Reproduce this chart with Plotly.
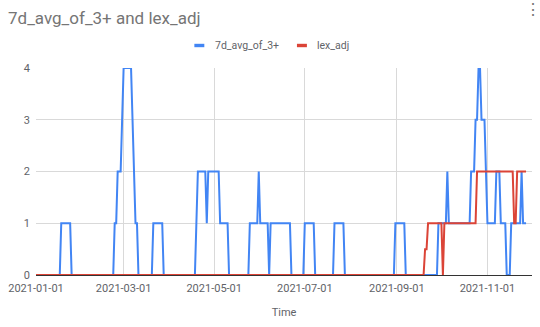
import pandas as pd
import plotly.graph_objects as go

start_date = "2021-01-01"
series_names = ["7d_avg_of_3+", "lex_adj"]
series_colors = ["#4285F4", "#DB4437"]

avg_of_3 = [
    0, 0, 0, 0, 0, 0, 0, 0, 0, 0, 0, 0, 0, 0, 0, 0, 0, 1, 1, 1,
    1, 1, 1, 1, 0, 0, 0, 0, 0, 0, 0, 0, 0, 0, 0, 0, 0, 0, 0, 0,
    0, 0, 0, 0, 0, 0, 0, 0, 0, 0, 0, 0, 0, 1, 1, 2, 2, 2, 3, 4,
    4, 4, 4, 4, 4, 3, 2, 1, 1, 0, 0, 0, 0, 0, 0, 0, 0, 0, 0, 1,
    1, 1, 1, 1, 1, 1, 0, 0, 0, 0, 0, 0, 0, 0, 0, 0, 0, 0, 0, 0,
    0, 0, 0, 0, 0, 0, 0, 0, 1, 2, 2, 2, 2, 2, 2, 1, 2, 2, 2, 2,
    2, 2, 2, 2, 1, 1, 1, 1, 1, 1, 0, 0, 0, 0, 0, 0, 0, 0, 0, 0,
    0, 0, 0, 0, 1, 1, 1, 1, 1, 1, 2, 1, 1, 1, 1, 1, 1, 0, 1, 1,
    1, 1, 1, 1, 1, 1, 1, 1, 1, 1, 1, 1, 0, 0, 0, 0, 0, 0, 0, 0,
    0, 1, 1, 1, 1, 1, 1, 1, 0, 0, 0, 0, 0, 0, 0, 0, 0, 0, 0, 0,
    0, 1, 1, 1, 1, 1, 1, 1, 0, 0, 0, 0, 0, 0, 0, 0, 0, 0, 0, 0,
    0, 0, 0, 0, 0, 0, 0, 0, 0, 0, 0, 0, 0, 0, 0, 0, 0, 0, 0, 0,
    0, 0, 1, 1, 1, 1, 1, 1, 1, 0, 0, 0, 0, 0, 0, 0, 0, 0, 0, 0,
    0, 0, 0, 0, 0, 0, 0, 0, 0, 0, 0, 1, 1, 1, 1, 1, 1, 2, 1, 1,
    1, 1, 1, 1, 1, 1, 1, 1, 1, 1, 1, 1, 1, 2, 2, 2, 3, 3, 4, 4,
    3, 3, 3, 2, 1, 1, 1, 1, 1, 1, 2, 2, 2, 1, 1, 1, 1, 0, 0, 0,
    1, 1, 1, 1, 1, 1, 1, 2, 1, 1, 1,
]

lex_adj = [
    0, 0, 0, 0, 0, 0, 0, 0, 0, 0, 0, 0, 0, 0, 0, 0, 0, 0, 0, 0,
    0, 0, 0, 0, 0, 0, 0, 0, 0, 0, 0, 0, 0, 0, 0, 0, 0, 0, 0, 0,
    0, 0, 0, 0, 0, 0, 0, 0, 0, 0, 0, 0, 0, 0, 0, 0, 0, 0, 0, 0,
    0, 0, 0, 0, 0, 0, 0, 0, 0, 0, 0, 0, 0, 0, 0, 0, 0, 0, 0, 0,
    0, 0, 0, 0, 0, 0, 0, 0, 0, 0, 0, 0, 0, 0, 0, 0, 0, 0, 0, 0,
    0, 0, 0, 0, 0, 0, 0, 0, 0, 0, 0, 0, 0, 0, 0, 0, 0, 0, 0, 0,
    0, 0, 0, 0, 0, 0, 0, 0, 0, 0, 0, 0, 0, 0, 0, 0, 0, 0, 0, 0,
    0, 0, 0, 0, 0, 0, 0, 0, 0, 0, 0, 0, 0, 0, 0, 0, 0, 0, 0, 0,
    0, 0, 0, 0, 0, 0, 0, 0, 0, 0, 0, 0, 0, 0, 0, 0, 0, 0, 0, 0,
    0, 0, 0, 0, 0, 0, 0, 0, 0, 0, 0, 0, 0, 0, 0, 0, 0, 0, 0, 0,
    0, 0, 0, 0, 0, 0, 0, 0, 0, 0, 0, 0, 0, 0, 0, 0, 0, 0, 0, 0,
    0, 0, 0, 0, 0, 0, 0, 0, 0, 0, 0, 0, 0, 0, 0, 0, 0, 0, 0, 0,
    0, 0, 0, 0, 0, 0, 0, 0, 0, 0, 0, 0, 0, 0, 0, 0, 0, 0, 0, 0,
    0, 0, 0.5, 0.5, 1, 1, 1, 1, 1, 1, 1, 1, 1, 1, 0, 1, 1, 1, 1, 1,
    1, 1, 1, 1, 1, 1, 1, 1, 1, 1, 1, 1, 1, 1, 1, 1, 1, 2, 2, 2,
    2, 2, 2, 2, 2, 2, 2, 2, 2, 2, 2, 2, 2, 2, 2, 2, 2, 2, 2, 2,
    2, 2, 1, 1, 2, 2, 2, 2, 2, 2, 2,
]

dates = pd.date_range(start_date, periods=len(avg_of_3), freq="D")

W, H = 540, 327
L, R, T, B = 34, 8, 68, 52
plot_w = W - L - R
plot_h = H - T - B


def px_x(px):
    return (px - L) / plot_w


def px_y(py):
    return (H - B - py) / plot_h


fig = go.Figure()
for vals, name, color in zip([avg_of_3, lex_adj], series_names, series_colors):
    fig.add_trace(go.Scatter(x=dates, y=vals, mode="lines", name=name,
                             line=dict(color=color, width=2), showlegend=False))

# manual legend (short thick swatches like the reference)
legend_swatch_left = [193, 296]
legend_text_left = [212, 314]
legend_y = 45.5
shapes = []
annotations = []
for name, color, sx, tx in zip(series_names, series_colors, legend_swatch_left, legend_text_left):
    shapes.append(dict(type="rect", xref="paper", yref="paper",
                       x0=px_x(sx), x1=px_x(sx + 10), y0=px_y(legend_y + 1.7), y1=px_y(legend_y - 1.7),
                       fillcolor=color, line=dict(width=0), layer="above"))
    annotations.append(dict(text=name, xref="paper", yref="paper", x=px_x(tx), y=px_y(legend_y),
                            xanchor="left", yanchor="middle", showarrow=False,
                            font=dict(size=10.5, color="#5f6368")))

annotations.append(dict(text="⋮", xref="paper", yref="paper", x=px_x(W - 7), y=px_y(9),
                        showarrow=False, font=dict(size=16, color="#757575"),
                        xanchor="center", yanchor="middle"))

fig.update_layout(
    width=W, height=H,
    margin=dict(l=L, r=R, t=T, b=B, pad=0),
    paper_bgcolor="white", plot_bgcolor="white",
    font=dict(family="Roboto, Arial, sans-serif", color="#5f6368", size=11),
    title=dict(text="7d_avg_of_3+ and lex_adj", xref="container", yref="container",
               x=8 / W, xanchor="left", y=1 - 18 / H, yanchor="middle",
               font=dict(size=17, color="#757575")),
    showlegend=False,
    xaxis=dict(
        type="date", range=["2021-01-01", "2021-12-01"],
        dtick="M2", tickformat="%Y-%m-%d",
        showgrid=True, gridcolor="#d9d9d9", gridwidth=1,
        showline=False, zeroline=False, ticks="",
        ticklabelstandoff=5,
        tickfont=dict(size=11, color="#5f6368"),
        title=dict(text="Time", font=dict(size=11, color="#5f6368"), standoff=14),
        fixedrange=True,
    ),
    yaxis=dict(
        range=[0, 4], dtick=1,
        showgrid=True, gridcolor="#d9d9d9", gridwidth=1,
        zeroline=True, zerolinecolor="#333333", zerolinewidth=1,
        showline=False, ticks="",
        ticklabelstandoff=5,
        tickfont=dict(size=11, color="#5f6368"),
        fixedrange=True,
    ),
    shapes=shapes,
    annotations=annotations,
)

fig.write_html("out.html", config={"displayModeBar": False})
